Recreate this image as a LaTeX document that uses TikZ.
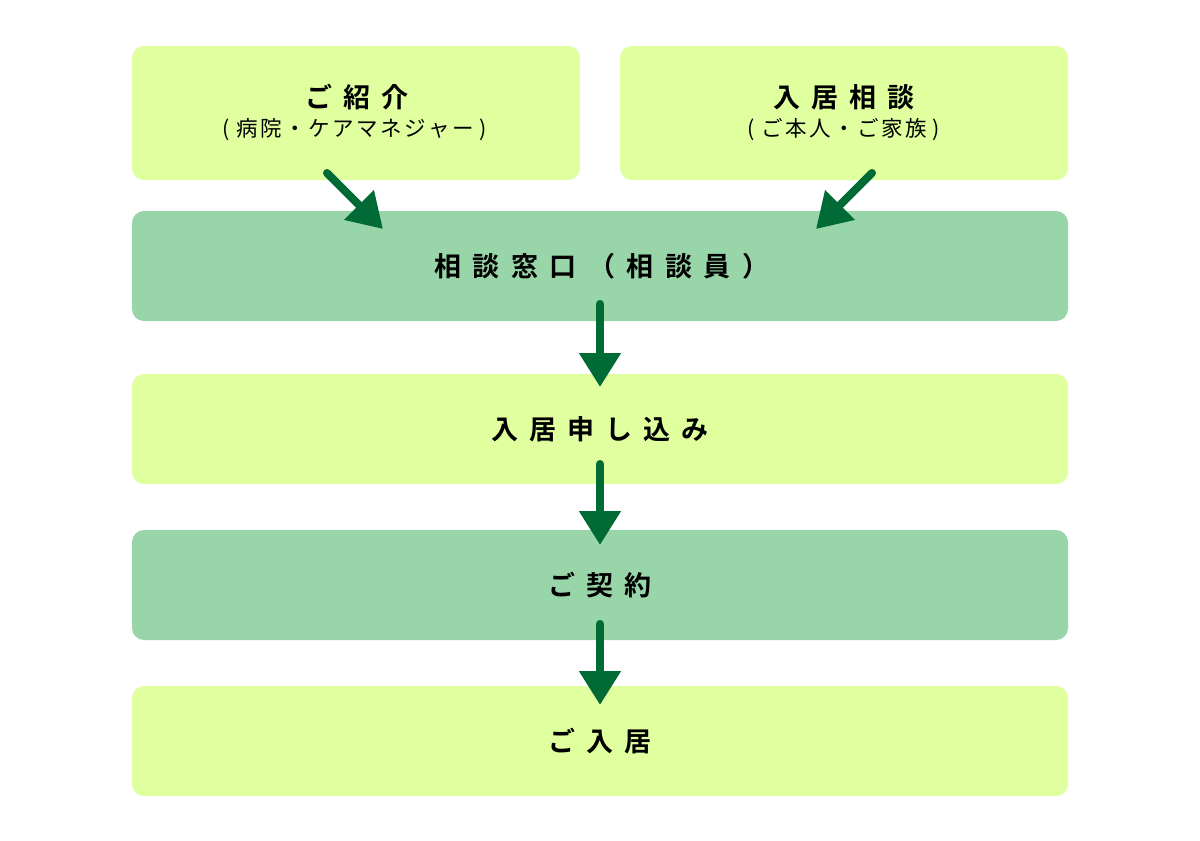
\documentclass[tikz,border=0pt]{standalone}
\usepackage{fontspec}
\setmainfont{Noto Sans CJK JP}[BoldFont={Noto Sans CJK JP Bold}]
\usetikzlibrary{arrows.meta}
\definecolor{lightg}{HTML}{E0FF9F}
\definecolor{midg}{HTML}{98D5A8}
\definecolor{arrowg}{HTML}{006B35}
\makeatletter
\newcommand\spaced[2]{\@tfor\spx:=#2\do{\spx\kern#1}\unkern}
\makeatother
\begin{document}
\begin{tikzpicture}[x=1pt,y=-1pt,
  box/.style={rounded corners=12pt,inner sep=0pt,minimum height=110pt,minimum width=936pt,
    font=\bfseries\fontsize{27pt}{30pt}\selectfont,text=black},
  topbox/.style={rounded corners=12pt,inner sep=0pt,minimum height=134pt,minimum width=448pt,fill=lightg},
  ttl/.style={inner sep=0pt,font=\bfseries\fontsize{27pt}{30pt}\selectfont},
  sub/.style={inner sep=0pt,font=\fontsize{21.5pt}{24pt}\selectfont},
  flow/.style={draw=arrowg,line width=8pt,line cap=round,
    -{Triangle[width=40pt 0 0,length=34pt 0 0,line join=miter]},fill=arrowg}]
\useasboundingbox (0,0) rectangle (1200,841);
\fill[white] (0,0) rectangle (1200,841);
% boxes
\node[topbox] (b1) at (356,113) {};
\node[topbox] (b2) at (844,113) {};
\node[box,fill=midg] (b3) at (600,266) {\kern4pt\spaced{11.5pt}{相談窓口（相談員）}};
\node[box,fill=lightg] (b4) at (600,429) {\spaced{11pt}{入居申し込み}};
\node[box,fill=midg] (b5) at (600,585) {\spaced{11pt}{ご契約}};
\node[box,fill=lightg] (b6) at (600,741) {\spaced{11pt}{ご入居}};
% texts of the top boxes
\node[ttl] (t1) at (357,97) {\spaced{11pt}{ご紹介}};
\node[sub] (s1) at (355,130) {(\kern6pt\spaced{2.5pt}{病院・ケアマネジャー}\kern6pt)};
\node[ttl] (t2) at (844,97) {\spaced{11pt}{入居相談}};
\node[sub] (s2) at (844,130) {(\kern6pt\spaced{2.5pt}{ご本人・ご家族}\kern6pt)};
% arrow end points
\coordinate (a1s) at (327,173);
\coordinate (a1e) at (383,229);
\coordinate (a2s) at (872,173);
\coordinate (a2e) at (816,229);
\coordinate (a3s) at (600,304);
\coordinate (a3e) at (600,387);
\coordinate (a4s) at (600,464);
\coordinate (a4e) at (600,545);
\coordinate (a5s) at (600,624);
\coordinate (a5e) at (600,705);
\draw[flow] (a1s) -- (a1e);
\draw[flow] (a2s) -- (a2e);
\draw[flow] (a3s) -- (a3e);
\draw[flow] (a4s) -- (a4e);
\draw[flow] (a5s) -- (a5e);
\end{tikzpicture}
\end{document}
